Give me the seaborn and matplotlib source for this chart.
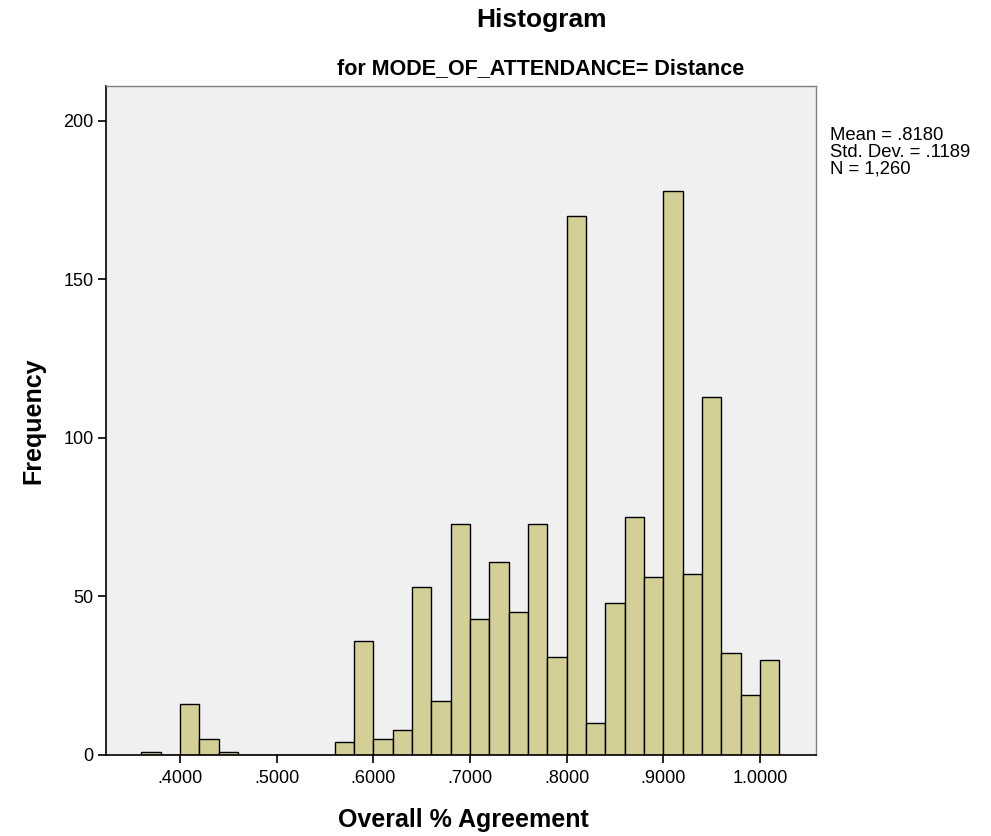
import numpy as np
import pandas as pd
import matplotlib
matplotlib.use("Agg")
import matplotlib.pyplot as plt
import seaborn as sns

# Histogram bins (width .02) and their frequencies
bin_left = [0.36, 0.38, 0.40, 0.42, 0.44, 0.46, 0.48, 0.50, 0.52, 0.54,
            0.56, 0.58, 0.60, 0.62, 0.64, 0.66, 0.68, 0.70, 0.72, 0.74,
            0.76, 0.78, 0.80, 0.82, 0.84, 0.86, 0.88, 0.90, 0.92, 0.94,
            0.96, 0.98, 1.00]
counts = [1, 0, 16, 5, 1, 0, 0, 0, 0, 0,
          4, 36, 5, 8, 53, 17, 73, 43, 61, 45,
          73, 31, 170, 10, 48, 75, 56, 178, 57, 113,
          32, 19, 30]
bin_width = 0.02

x_ticks = [0.4, 0.5, 0.6, 0.7, 0.8, 0.9, 1.0]
x_tick_labels = [".4000", ".5000", ".6000", ".7000", ".8000", ".9000", "1.0000"]
y_ticks = [0, 50, 100, 150, 200]

stats_text = "Mean = .8180\nStd. Dev. = .1189\nN = 1,260"

sns.set_style("white")
plt.rcParams["font.family"] = ["Liberation Sans", "DejaVu Sans"]
plt.rcParams["text.color"] = "black"
plt.rcParams["axes.labelcolor"] = "black"
plt.rcParams["xtick.color"] = "black"
plt.rcParams["ytick.color"] = "black"

df = pd.DataFrame({
    "value": np.array(bin_left) + bin_width / 2,
    "freq": counts,
})
edges = [round(b, 4) for b in bin_left] + [round(bin_left[-1] + bin_width, 4)]

fig = plt.figure(figsize=(9.91, 8.36), dpi=100)
ax = fig.add_axes([0.107, 0.097, 0.7164, 0.80])
ax.set_facecolor("#F0F0F0")

sns.histplot(data=df, x="value", weights="freq", bins=edges, ax=ax,
             color="#D3CF97", alpha=1.0, edgecolor="black", linewidth=1.0)

ax.set_xlim(0.3235, 1.058)
ax.set_ylim(0, 211)
ax.set_xticks(x_ticks)
ax.set_xticklabels(x_tick_labels, fontsize=13)
ax.set_yticks(y_ticks)
ax.set_yticklabels([str(v) for v in y_ticks], fontsize=13)
ax.tick_params(axis="both", direction="out", length=6, width=1.2, color="black",
               labelcolor="black", bottom=True, left=True)
ax.tick_params(axis="x", pad=5)
ax.tick_params(axis="y", pad=3)

for side in ["left", "bottom"]:
    ax.spines[side].set_color("black")
    ax.spines[side].set_linewidth(1.2)
for side in ["top", "right"]:
    ax.spines[side].set_color("#808080")
    ax.spines[side].set_linewidth(1.0)

ax.set_xlabel("Overall % Agreement", fontsize=18, fontweight="bold", va="center")
ax.xaxis.set_label_coords(0.503, -0.097)
ax.set_ylabel("Frequency", fontsize=18, fontweight="bold", va="center")
ax.yaxis.set_label_coords(-0.103, 0.50)

fig.text(0.546, 0.976, "Histogram", ha="center", va="center",
         fontsize=19, fontweight="bold")
fig.text(0.546, 0.918, "for MODE_OF_ATTENDANCE= Distance", ha="center",
         va="center", fontsize=15.5, fontweight="bold")

fig.text(0.8375, 0.848, stats_text, ha="left", va="top", fontsize=13.3,
         linespacing=0.98)

fig.savefig("out.png", dpi=100, facecolor="white")
